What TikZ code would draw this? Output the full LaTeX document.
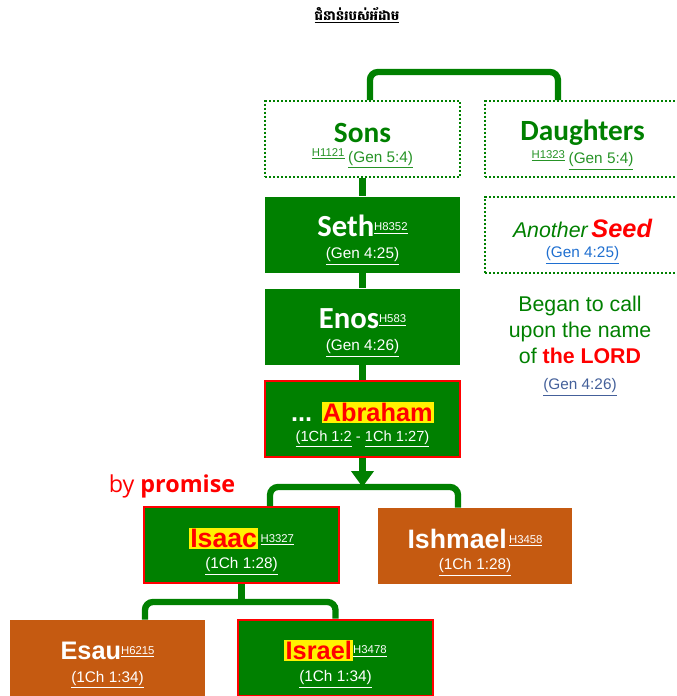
\documentclass[tikz,border=0pt]{standalone}
\usepackage{fontspec}
\setmainfont{Liberation Sans}
\newfontfamily\calibri{Carlito}
\newfontfamily\roundsans{Open Sans}
\newfontfamily\khmerfont[Script=Khmer]{Battambang}
\usepackage{tikz}
\usetikzlibrary{arrows.meta}
\definecolor{leaf}{HTML}{008000}
\definecolor{rust}{HTML}{C55A11}
\definecolor{hot}{HTML}{FF0000}
\definecolor{linkblue}{HTML}{1F6FD0}
\definecolor{slate}{HTML}{44609A}
\newcommand{\sref}[1]{\raisebox{4pt}{\fontsize{8.5}{10}\selectfont\underline{#1}}}
\newcommand{\vref}[1]{{\fontsize{11.5}{13}\selectfont\underline{#1}}}
\newcommand{\hilite}[1]{{\setlength{\fboxsep}{1pt}\colorbox{yellow}{#1}}}
\newcommand{\lift}{\rule{0pt}{24pt}}
\tikzset{every picture/.style={line width=0.75pt}}

\begin{document}
\begin{tikzpicture}[x=0.75pt,y=-0.75pt,node distance=69pt,align=center,
    gen/.style={fill=leaf, text=white, minimum width=146pt, minimum height=57pt, inner sep=0pt},
    chosen/.style={gen, draw=hot, line width=1.5pt},
    other/.style={gen, fill=rust},
    note/.style={draw=leaf, line width=1.5pt, dash pattern=on 1.5pt off 1.5pt, minimum width=146pt, minimum height=57pt, inner sep=0pt},
    trunk/.style={draw=leaf, line width=4.75pt, rounded corners=6pt}]
        \useasboundingbox (0,0) rectangle (677,696);
        \node (title) at (357,15) {\khmerfont\bfseries\fontsize{10}{12}\selectfont\underline{ជំនាន់របស់អ័ដាម}};
        \node[note] (sons) at (362.5,139) {\lift{\calibri\bfseries\fontsize{22}{24}\selectfont\color{leaf}Sons}\\[3pt] {\color{leaf!85!white}\sref{H1121} \vref{(Gen 5:4)}}};
        \node[note] (daughters) at (582.5,139) {\lift{\calibri\bfseries\fontsize{22}{24}\selectfont\color{leaf}Daughters}\\[3pt] {\color{leaf!85!white}\sref{H1323} \vref{(Gen 5:4)}}};
        \node[gen] (seth) at (362.5,234.5) {\lift{\calibri\bfseries\fontsize{23}{24}\selectfont Seth}\sref{H8352}\\[5pt] \vref{(Gen 4:25)}};
        \node[gen,below of=seth] (enos) {\lift{\calibri\bfseries\fontsize{23}{24}\selectfont Enos}\sref{H583}\\[5pt] \vref{(Gen 4:26)}};
        \node[chosen,below of=enos] (abraham) {\lift{\bfseries\fontsize{19}{22}\selectfont ... \hilite{\color{hot}Abraham}}\\[3pt] {\fontsize{11}{13}\selectfont\underline{(1Ch 1:2} - \underline{1Ch 1:27)}}};
        \node[note] (seed) at (582.5,234.5) {\lift{\itshape\fontsize{16}{18}\selectfont\color{leaf}Another} {\bfseries\itshape\fontsize{19}{20}\selectfont\color{hot}Seed}\\[3.5pt] {\color{linkblue}\vref{(Gen 4:25)}}};
        \node[font=\fontsize{16}{19.5}\selectfont, text=leaf] (call) at (580,346) {Began to call\\ upon the name\\ of {\bfseries\color{hot}the LORD}\\ {\color{slate}\vref{(Gen 4:26)}}};
        \node (promise) at (172,486) {\roundsans\fontsize{17.5}{20}\selectfont\color{hot}by {\bfseries promise}};
        \node[chosen] (isaac) at (241.5,545) {\lift{\bfseries\fontsize{20}{22}\selectfont\hilite{\color{hot}Isaac}}\,\sref{H3327}\\[4pt] \vref{(1Ch 1:28)}};
        \node[other] (ishmael) at (475,546) {\lift{\bfseries\fontsize{20}{22}\selectfont Ishmael}\,\sref{H3458}\\[4pt] \vref{(1Ch 1:28)}};
        \node[other] (esau) at (107.5,658) {\lift{\bfseries\fontsize{19}{22}\selectfont Esau}\sref{H6215}\\[5pt] \vref{(1Ch 1:34)}};
        \node[chosen] (israel) at (335.5,657.5) {\lift{\bfseries\fontsize{19}{22}\selectfont\hilite{\color{hot}Israel}}\sref{H3478}\\[5pt] \vref{(1Ch 1:34)}};
        \coordinate (fork) at (362.5,487);
        \coordinate (split) at (241.5,602);
        % family lines
        \draw[trunk] ([xshift=5.6pt]sons.north) -- ++(0,-28) -| ([xshift=-18.4pt]daughters.north);
        \draw[trunk] (sons) -- (seth);
        \draw[trunk] (seth) -- (enos);
        \draw[trunk] (enos) -- (abraham);
        \draw[trunk,-{Triangle[width=16.5pt,length=12pt]}] (abraham) -- (fork);
        \draw[trunk] ([xshift=21.4pt]isaac.north) |- (fork) -| ([xshift=-12.75pt]ishmael.north);
        \draw[trunk] (isaac) -- (split);
        \draw[trunk] ([xshift=28.1pt]esau.north) |- (split) -| (israel.north);
\end{tikzpicture}
\end{document}
